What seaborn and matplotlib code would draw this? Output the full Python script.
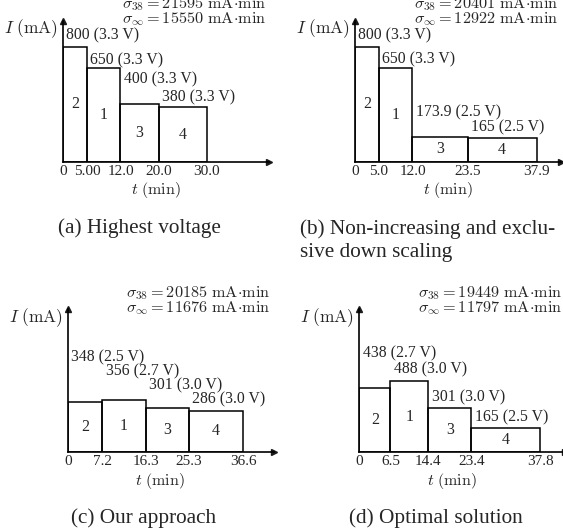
import matplotlib
matplotlib.use("Agg")
import matplotlib.pyplot as plt
import seaborn as sns

# time boundaries of the four tasks (min), current (mA), voltage, task id
edges_a = [0, 5.00, 12.0, 20.0, 30.0]
ticks_a = ["0", "5.00", "12.0", "20.0", "30.0"]
current_a = [800, 650, 400, 380]
volt_a = ["3.3", "3.3", "3.3", "3.3"]
task_a = ["2", "1", "3", "4"]
sigma_a = ["21595", "15550"]

edges_b = [0, 5.0, 12.0, 23.5, 37.9]
ticks_b = ["0", "5.0", "12.0", "23.5", "37.9"]
current_b = [800, 650, 173.9, 165]
volt_b = ["3.3", "3.3", "2.5", "2.5"]
task_b = ["2", "1", "3", "4"]
sigma_b = ["20401", "12922"]

edges_c = [0, 7.2, 16.3, 25.3, 36.6]
ticks_c = ["0", "7.2", "16.3", "25.3", "36.6"]
current_c = [348, 356, 301, 286]
volt_c = ["2.5", "2.7", "3.0", "3.0"]
task_c = ["2", "1", "3", "4"]
sigma_c = ["20185", "11676"]

edges_d = [0, 6.5, 14.4, 23.4, 37.8]
ticks_d = ["0", "6.5", "14.4", "23.4", "37.8"]
current_d = [438, 488, 301, 165]
volt_d = ["2.7", "3.0", "3.0", "2.5"]
task_d = ["2", "1", "3", "4"]
sigma_d = ["19449", "11797"]

captions = ["(a) Highest voltage", "(b) Non-increasing and exclu-\nsive down scaling",
            "(c) Our approach", "(d) Optimal solution"]

# layout only: height (mA) where each value label sits, hand placed like the original
label_y_a = [882, 708, 576, 449]
label_y_b = [882, 715, 342, 238]
label_y_c = [653, 556, 456, 363]
label_y_d = [676, 565, 379, 236]

sns.set_theme(style="white")
plt.rcParams["font.family"] = ["Liberation Serif", "DejaVu Serif"]
plt.rcParams["mathtext.fontset"] = "cm"

W, H = 563, 531
fig = plt.figure(figsize=(W / 100, H / 100), dpi=100)


def panel(rect, edges, ticks, current, volt, task, sigma, label_y):
    left, bottom, width, height = rect
    ax = fig.add_axes([left / W, 1 - bottom / H, width / W, height / H])
    mids = [(edges[i] + edges[i + 1]) / 2 for i in range(len(current))]
    sns.histplot(x=mids, weights=current, bins=edges, fill=False, color="black",
                 linewidth=1.1, element="bars", ax=ax)
    ax.set_xlim(0, 43)
    ax.set_ylim(0, 980)
    ax.set_xticks(edges)
    ax.set_xticklabels(ticks)
    ax.set_yticks([])
    ax.tick_params(axis="x", length=0, pad=2, labelsize=11)
    for s in ["top", "right"]:
        ax.spines[s].set_visible(False)
    for s in ["left", "bottom"]:
        ax.spines[s].set_color("black")
        ax.spines[s].set_linewidth(1.2)
    ax.plot(1, 0, ">k", transform=ax.transAxes, clip_on=False, markersize=4)
    ax.plot(0, 1, "^k", transform=ax.transAxes, clip_on=False, markersize=4)

    for i, c in enumerate(current):
        ax.text(edges[i] + 0.7, label_y[i], f"{c:g} ({volt[i]} V)",
                ha="left", va="center", fontsize=11.3)
        ax.text(mids[i], c / 2, task[i], ha="center", va="center", fontsize=11.5)

    ax.set_ylabel("")
    ax.set_xlabel(r"$t\ (\mathrm{min})$", fontsize=11.5)
    ax.xaxis.set_label_coords(0.45, -0.13)
    ax.annotate(r"$I\ (\mathrm{mA})$", xy=(0, 1), xycoords="axes fraction",
                xytext=(-5, -8), textcoords="offset pixels",
                ha="right", va="center", fontsize=12.5)
    ax.annotate(r"$\sigma_{38} = %s\ \mathrm{mA{\cdot}min}$" % sigma[0],
                xy=(0.985, 1), xycoords="axes fraction",
                xytext=(0, 16.5), textcoords="offset pixels",
                ha="right", va="center", fontsize=11.7)
    ax.annotate(r"$\sigma_{\infty} = %s\ \mathrm{mA{\cdot}min}$" % sigma[1],
                xy=(0.985, 1), xycoords="axes fraction",
                xytext=(0, 1.5), textcoords="offset pixels",
                ha="right", va="center", fontsize=11.7)
    return ax


panel((63, 162, 206, 141), edges_a, ticks_a, current_a, volt_a, task_a, sigma_a, label_y_a)
panel((355, 162, 206, 141), edges_b, ticks_b, current_b, volt_b, task_b, sigma_b, label_y_b)
panel((67.7, 452.3, 206, 143), edges_c, ticks_c, current_c, volt_c, task_c, sigma_c, label_y_c)
panel((359.3, 452.3, 206, 143), edges_d, ticks_d, current_d, volt_d, task_d, sigma_d, label_y_d)

fig.text(139.5 / W, 1 - 228 / H, captions[0], ha="center", va="center", fontsize=15.3)
first, second = captions[1].split("\n")
fig.text(300 / W, 1 - 229 / H, first, ha="left", va="center", fontsize=15.3)
fig.text(300 / W, 1 - 252 / H, second, ha="left", va="center", fontsize=15.3)
fig.text(144 / W, 1 - 518 / H, captions[2], ha="center", va="center", fontsize=15.3)
fig.text(436 / W, 1 - 518 / H, captions[3], ha="center", va="center", fontsize=15.3)

fig.savefig("out.png", dpi=100)
